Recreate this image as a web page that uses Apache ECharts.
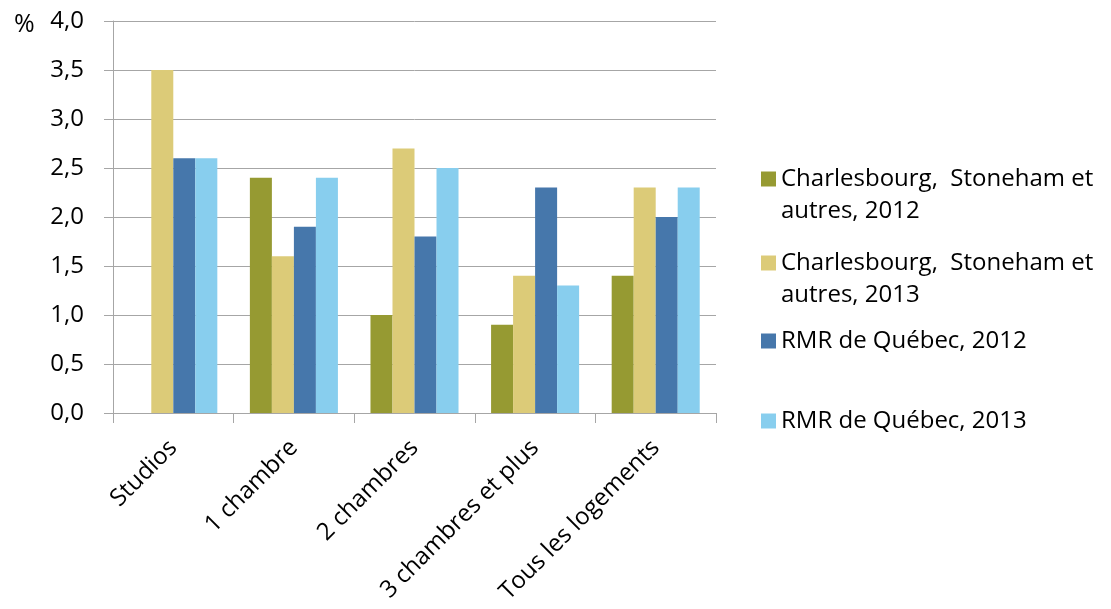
<!DOCTYPE html>
<html>
<head>
<meta charset="utf-8">
<script src="https://cdn.jsdelivr.net/npm/echarts@6/dist/echarts.min.js"></script>
<style>
html,body{margin:0;padding:0;background:#fff;}
#chart{width:1111px;height:609px;}
</style>
</head>
<body>
<div id="chart"></div>
<script>
const categories = ['Studios', '1 chambre', '2 chambres', '3 chambres et plus', 'Tous les logements'];
const seriesNames = [
  'Charlesbourg,  Stoneham et\nautres, 2012',
  'Charlesbourg,  Stoneham et\nautres, 2013',
  'RMR de Québec, 2012',
  'RMR de Québec, 2013'
];
const charlesbourg2012 = [null, 2.4, 1.0, 0.9, 1.4];
const charlesbourg2013 = [3.5, 1.6, 2.7, 1.4, 2.3];
const rmr2012 = [2.6, 1.9, 1.8, 2.3, 2.0];
const rmr2013 = [2.6, 2.4, 2.5, 1.3, 2.3];
const yTickLabels = ['0,0', '0,5', '1,0', '1,5', '2,0', '2,5', '3,0', '3,5', '4,0'];
const unitLabel = '%';

const colors = ['#969A32', '#DCCB78', '#4677AB', '#88CEEE'];
const FONT = '"Open Sans"';
const gridColor = '#A6A6A6';

const chart = echarts.init(document.getElementById('chart'));
const values = [charlesbourg2012, charlesbourg2013, rmr2012, rmr2013];

const legendTops = [131, 215, 325, 405];
const legends = seriesNames.map((n, i) => ({
  data: [n],
  orient: 'vertical',
  left: 761,
  top: legendTops[i],
  padding: 0,
  itemWidth: 15,
  itemHeight: 15,
  itemGap: 0,
  icon: 'rect',
  selectedMode: false,
  formatter: name => (name.indexOf('\n') >= 0 ? '\n' + name : name),
  textStyle: {
    fontFamily: FONT,
    fontSize: 24,
    color: '#000',
    lineHeight: 32
  }
}));

chart.setOption({
  animation: false,
  color: colors,
  title: {
    text: unitLabel,
    left: 9,
    top: 7,
    textStyle: { fontFamily: FONT, fontSize: 25, fontWeight: 'normal', color: '#000' }
  },
  legend: legends,
  grid: { left: 113, right: 395, top: 21, bottom: 196, containLabel: false },
  xAxis: {
    type: 'category',
    data: categories,
    axisLine: { show: true, lineStyle: { color: gridColor, width: 1 } },
    axisTick: { show: true, length: 10, lineStyle: { color: gridColor } },
    axisLabel: {
      rotate: 45,
      interval: 0,
      margin: 31,
      fontFamily: FONT,
      fontSize: 24,
      color: '#000'
    }
  },
  yAxis: {
    type: 'value',
    min: 0,
    max: 4,
    interval: 0.5,
    axisLine: { show: true, lineStyle: { color: gridColor, width: 1 } },
    axisTick: { show: true, length: 9, lineStyle: { color: gridColor } },
    splitLine: { show: true, lineStyle: { color: gridColor, width: 1 } },
    axisLabel: {
      margin: 29,
      fontFamily: FONT,
      fontSize: 24,
      color: '#000',
      formatter: v => yTickLabels[Math.round(v / 0.5)]
    }
  },
  series: values.map((d, i) => ({
    name: seriesNames[i],
    type: 'bar',
    data: d,
    barGap: '0%',
    barCategoryGap: '27%',
    itemStyle: { color: colors[i] }
  }))
});
</script>
</body>
</html>
